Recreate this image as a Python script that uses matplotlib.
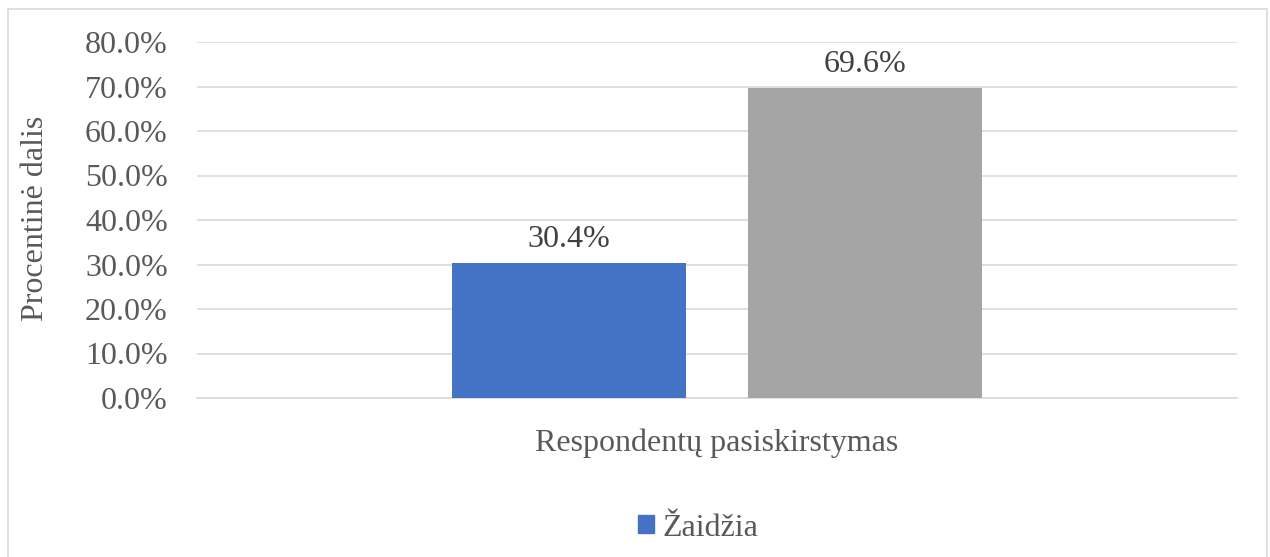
import matplotlib.pyplot as plt
from matplotlib.patches import Rectangle, Patch
from matplotlib.ticker import FuncFormatter

category = "Respondentų pasiskirstymas"
series_names = ["Žaidžia", "Nežaidžia"]
values = [30.4, 69.6]
colors = ["#4472c4", "#a5a5a5"]
yticks = [0, 10, 20, 30, 40, 50, 60, 70, 80]

plt.rcParams['font.family'] = ['Liberation Serif', 'DejaVu Serif']
text_color = "#595959"
fs = 23

fig = plt.figure(figsize=(12.7, 5.57), dpi=100)
ax = fig.add_axes([197 / 1270, 1 - 398 / 557, 1040 / 1270, 356 / 557])

# outer chart border (cut off at the bottom as in the reference)
fig.patches.append(Rectangle((8 / 1270, -0.1), 1259 / 1270, 1.1 - 9 / 557,
                             transform=fig.transFigure, fill=False,
                             edgecolor="#d9d9d9", linewidth=1.2))

offsets = [-0.1425, 0.1425]
for off, v, c in zip(offsets, values, colors):
    ax.bar(off, v, width=0.225, color=c, zorder=3)
    ax.text(off, v + 2.0, f"{v:.1f}%", ha="center", va="bottom",
            fontsize=fs, color="#404040")

ax.set_xlim(-0.5, 0.5)
ax.set_ylim(0, 80)
ax.set_yticks(yticks)
ax.yaxis.set_major_formatter(FuncFormatter(lambda v, p: f"{v:.1f}%"))
ax.tick_params(axis="y", length=0, labelsize=fs, labelcolor=text_color, pad=21)
ax.set_xticks([])
ax.grid(axis="y", color="#d9d9d9", linewidth=1.2, zorder=0)
for s in ["top", "right", "left"]:
    ax.spines[s].set_visible(False)
ax.spines["bottom"].set_color("#d9d9d9")
ax.spines["bottom"].set_linewidth(1.2)

ax.set_xlabel(category, fontsize=fs, color=text_color, labelpad=22)
fig.text(36 / 1270, 1 - 218 / 557, "Procentinė dalis", rotation=90,
         ha="center", va="center", fontsize=fs, color=text_color)

handles = [Patch(color=colors[0], label=series_names[0])]
fig.legend(handles=handles, loc="center", bbox_to_anchor=(698 / 1270, 1 - 528 / 557),
           frameon=False, fontsize=fs, labelcolor=text_color,
           handlelength=0.5, handleheight=0.5, handletextpad=0.25)

fig.savefig("out.png", dpi=100)
